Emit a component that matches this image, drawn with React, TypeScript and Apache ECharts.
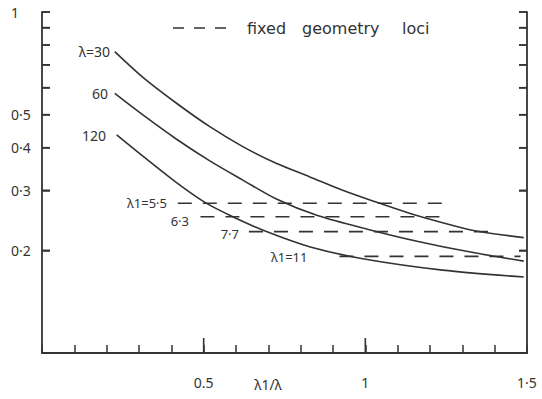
import React, { useEffect, useRef } from "react";
import * as echarts from "echarts";

// curves: λ1/λ positions and values (plotted on a logarithmic y scale)
const x30 = [0.225, 0.313, 0.416, 0.519, 0.621, 0.724, 0.827, 0.93, 1.033, 1.136, 1.239, 1.342, 1.49];
const lambda30 = [0.765, 0.642, 0.54, 0.461, 0.403, 0.36, 0.329, 0.3, 0.277, 0.257, 0.241, 0.228, 0.218];
const x60 = [0.225, 0.312, 0.414, 0.519, 0.62, 0.725, 0.852, 1.012, 1.167, 1.321, 1.49];
const lambda60 = [0.577, 0.499, 0.425, 0.366, 0.322, 0.283, 0.253, 0.23, 0.212, 0.198, 0.186];
const x120 = [0.231, 0.313, 0.416, 0.508, 0.59, 0.694, 0.827, 0.992, 1.239, 1.49];
const lambda120 = [0.436, 0.377, 0.316, 0.275, 0.251, 0.227, 0.205, 0.189, 0.175, 0.167];

// fixed geometry loci
const lociNames = ["5·5", "6·3", "7·7", "11"];
const lociY = [0.275, 0.251, 0.227, 0.192];
const lociXStart = [0.42, 0.49, 0.64, 0.92];
const lociXEnd = [1.25, 1.26, 1.41, 1.48];

const X_MIN = 0;
const X_MAX = 1.5;
const Y_MIN = 0.1;
const Y_MAX = 1;
const yTicks = [0.2, 0.3, 0.4, 0.5, 0.6, 0.7, 0.8, 0.9, 1];
const yLabels = [0.2, 0.3, 0.4, 0.5, 1];
const xLabels = [0.5, 1, 1.5];
const xMajorTicks = [0.5, 1];

const INK = "#333";
const FONT = "Noto Sans";
const lg = (v: number) => Math.log10(v);

export default function App() {
  const ref = useRef<HTMLDivElement>(null);
  useEffect(() => {
    document.body.style.margin = "0";
    const chart = echarts.init(ref.current!, null, { renderer: "svg" });
    const curve = (name: string, xs: number[], vals: number[]) => ({
      name,
      type: "line",
      smooth: 0.3,
      showSymbol: false,
      symbol: "none",
      lineStyle: { color: INK, width: 1.6 },
      data: xs.map((x, i) => [x, lg(vals[i])]),
    });
    const loci = lociY.map((y, i) => ({
      name: "λ1=" + lociNames[i],
      type: "line",
      showSymbol: false,
      symbol: "none",
      lineStyle: { color: INK, width: 1.6, type: [14, 11] },
      data: [
        [lociXStart[i], lg(y)],
        [lociXEnd[i], lg(y)],
      ],
    }));
    // tick marks as rect symbols, positioned by the axes' own scales
    const tickScatter = (name: string, pts: number[][], size: number[], offset: number[]) => ({
      name,
      type: "scatter",
      silent: true,
      clip: false,
      symbol: "rect",
      symbolSize: size,
      symbolOffset: offset,
      itemStyle: { color: INK, opacity: 1 },
      z: 10,
      data: pts,
    });
    const txt = (text: string, x: number, y: number, align: string, size = 14, family = FONT) => ({
      type: "text",
      x,
      y,
      style: {
        text,
        fill: INK,
        font: `${size}px "${family}"`,
        textAlign: align,
        textVerticalAlign: "middle",
      },
    });
    const fmtY = (lv: number) => {
      const v = Math.round(Math.pow(10, lv) * 10) / 10;
      return v === 1 ? "1" : String(v).replace(".", "·");
    };
    const fmtX = (v: number) => (v === 0.5 ? "0.5" : v === 1 ? "1" : "1·5");
    const yAxisBase = {
      type: "value",
      min: lg(Y_MIN),
      max: lg(Y_MAX),
      axisLine: { onZero: false, lineStyle: { color: INK, width: 1.8 } },
      axisTick: {
        show: true,
        inside: true,
        length: 8,
        customValues: yTicks.map(lg),
        lineStyle: { color: INK, width: 1.5 },
      },
      splitLine: { show: false },
    };
    chart.setOption({
      animation: false,
      backgroundColor: "#fff",
      textStyle: { fontFamily: FONT, color: INK },
      grid: {
        left: 42,
        right: 15,
        top: 12,
        bottom: 46,
        containLabel: false,
        outerBoundsMode: "none",
      },
      xAxis: {
        type: "value",
        min: X_MIN,
        max: X_MAX,
        interval: 0.1,
        position: "bottom",
        axisLine: { onZero: false, lineStyle: { color: INK, width: 1.8 } },
        axisTick: { inside: true, length: 8, lineStyle: { color: INK, width: 1.5 } },
        axisLabel: {
          customValues: xLabels,
          formatter: fmtX,
          margin: 22,
          color: INK,
          fontSize: 14,
          fontFamily: FONT,
        },
        splitLine: { show: false },
      },
      yAxis: [
        {
          ...yAxisBase,
          position: "left",
          axisLabel: {
            customValues: yLabels.map(lg),
            formatter: fmtY,
            align: "left",
            margin: 31,
            color: INK,
            fontSize: 14,
            fontFamily: FONT,
          },
        },
        {
          ...yAxisBase,
          position: "right",
          axisLabel: { show: false },
        },
      ],
      series: [
        curve("λ=30", x30, lambda30),
        curve("λ=60", x60, lambda60),
        curve("λ=120", x120, lambda120),
        ...loci,
        tickScatter("left ticks", yTicks.map((v) => [X_MIN, lg(v)]), [8, 1.6], [4, 0]),
        tickScatter("x major ticks", xMajorTicks.map((x) => [x, lg(Y_MIN)]), [1.6, 15], [0, -7.5]),
      ],
    });

    // right-hand ticks as graphic lines placed through the chart's scales
    const finder = { xAxisIndex: 0, yAxisIndex: 0 };
    const rightTicks: any[] = yTicks.map((v) => {
      const p = chart.convertToPixel(finder, [X_MAX, lg(v)]) as number[];
      return {
        type: "line",
        z: 100,
        shape: { x1: p[0] - 8, y1: p[1], x2: p[0], y2: p[1] },
        style: { stroke: INK, lineWidth: 1.5, lineDash: [40, 1] },
      };
    });

    chart.setOption({
      graphic: [
        txt("λ=30", 110, 51, "right"),
        txt("60", 108, 93, "right"),
        txt("120", 106, 135, "right"),
        txt("λ1=5·5", 167, 203, "right", 13),
        txt("6·3", 189, 221, "right", 13),
        txt("7·7", 239, 234, "right", 13),
        txt("λ1=11", 271, 257, "left", 13),
        {
          type: "line",
          shape: { x1: 173, y1: 28, x2: 229, y2: 28 },
          style: { stroke: INK, lineWidth: 1.5, lineDash: [11, 10] },
        },
        txt("fixed", 247, 28, "left", 16, "DejaVu Sans"),
        txt("geometry", 302, 28, "left", 16, "DejaVu Sans"),
        txt("loci", 402, 28, "left", 16, "DejaVu Sans"),
        txt("λ1/λ", 268, 384, "center"),
        ...rightTicks,
      ],
    });
    return () => chart.dispose();
  }, []);
  return (
    <div
      ref={ref}
      style={{ position: "absolute", left: 0, top: 0, width: 542, height: 399 }}
    />
  );
}
